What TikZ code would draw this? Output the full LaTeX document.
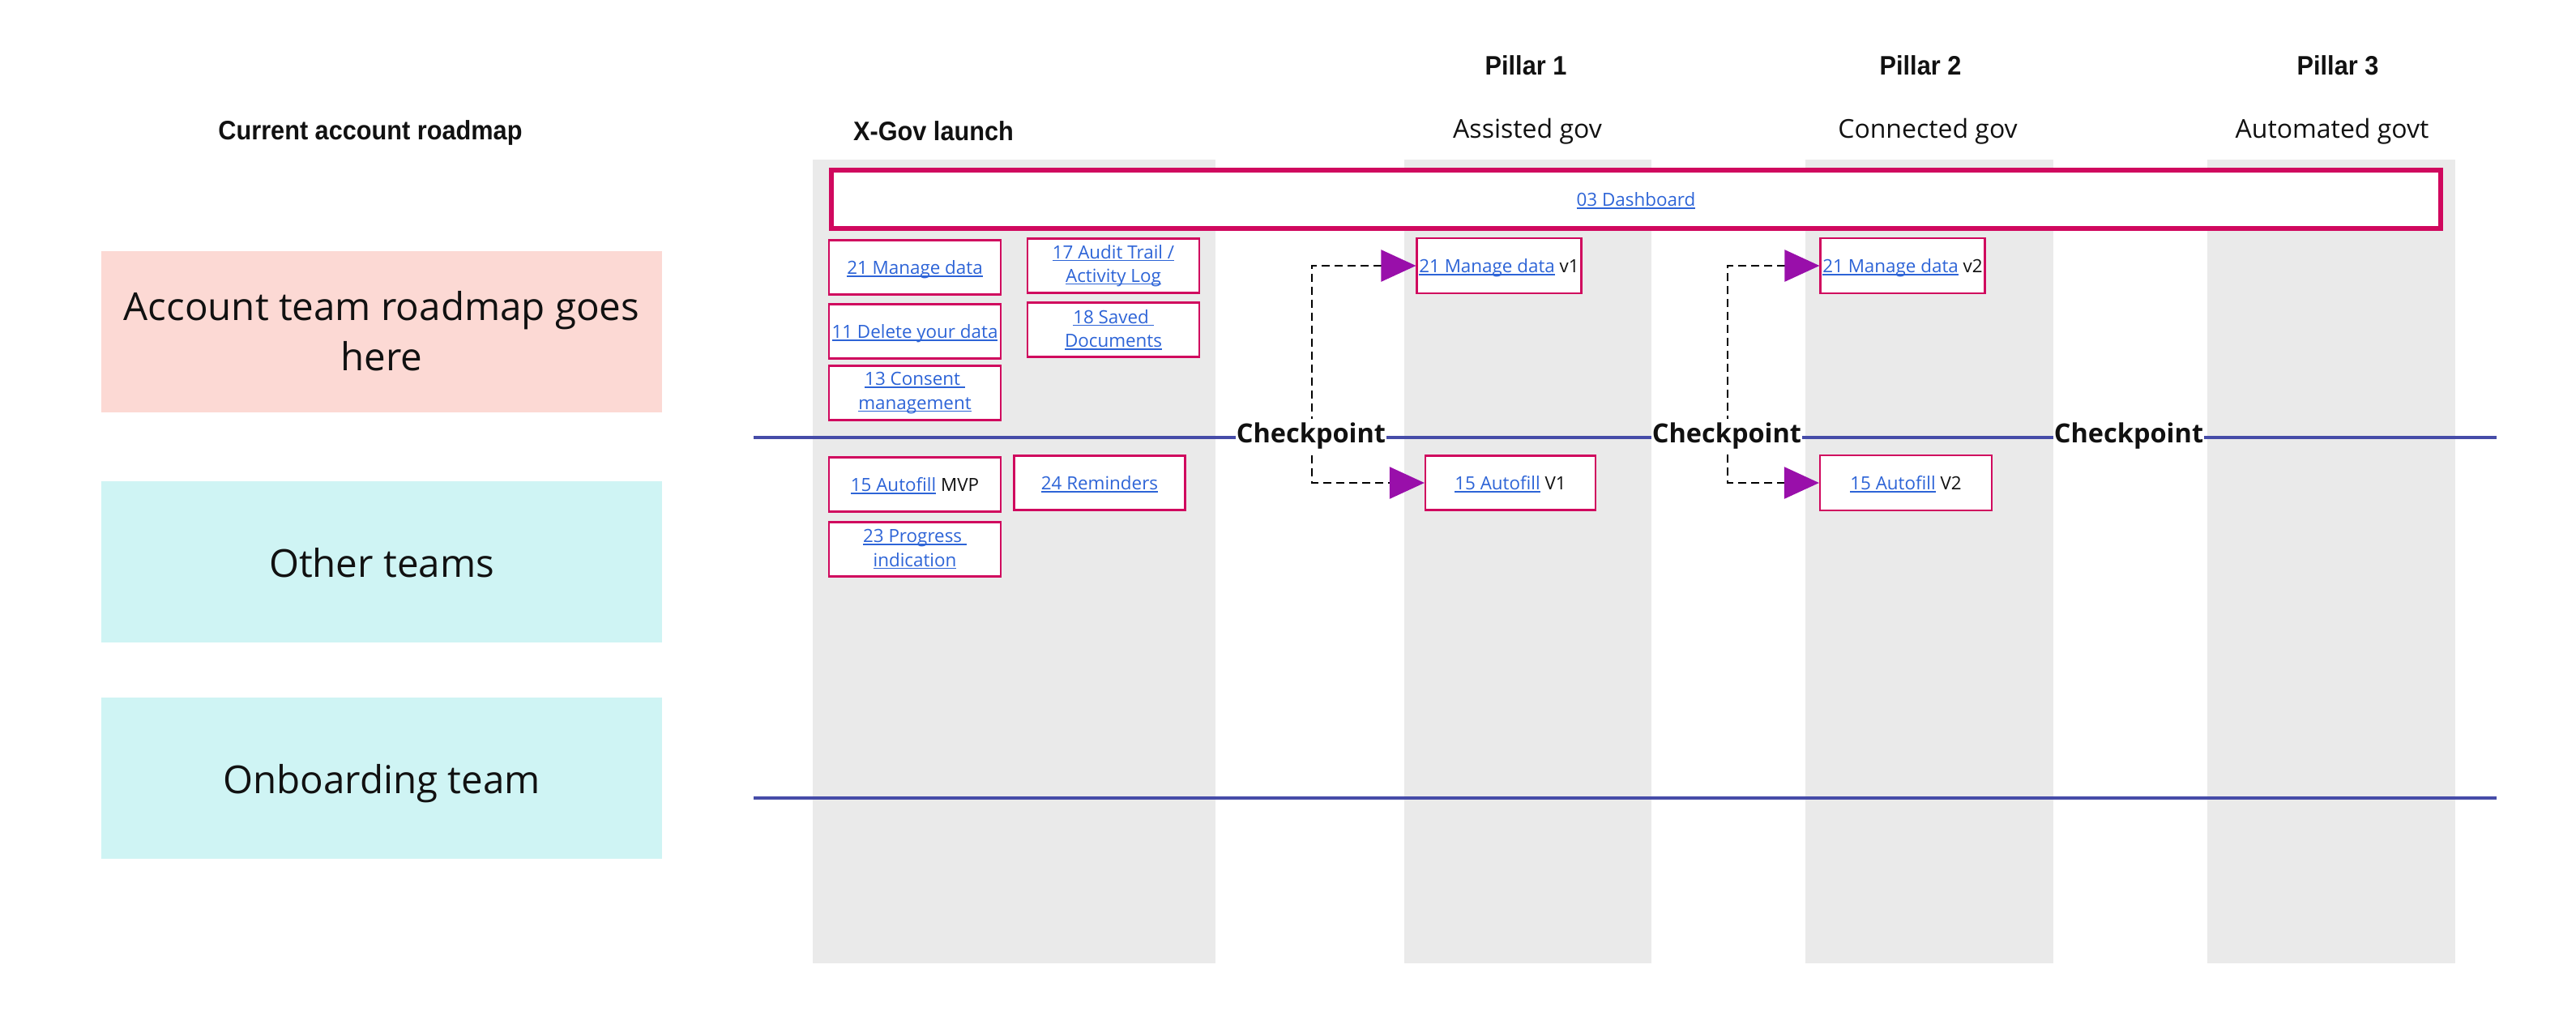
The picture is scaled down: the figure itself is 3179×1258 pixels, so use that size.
\documentclass[tikz,border=0pt]{standalone}
\usepackage{fontspec}
\setmainfont{Open Sans}
\newfontfamily\hdfont[FakeStretch=0.93]{Liberation Sans}
\usetikzlibrary{arrows.meta}
\definecolor{txt}{RGB}{17,17,17}
\definecolor{linkblue}{RGB}{45,100,215}
\definecolor{crim}{RGB}{208,8,94}
\definecolor{tippurple}{RGB}{153,15,170}
\definecolor{pinkfill}{RGB}{252,217,212}
\definecolor{cyanfill}{RGB}{207,244,244}
\definecolor{colgray}{RGB}{234,234,234}
\definecolor{lineblue}{RGB}{70,76,168}
\newcommand\lnk[1]{{\color{linkblue}\setbox0=\hbox{#1}\rlap{\rule[-3pt]{\wd0}{1.5pt}}\box0}}
\tikzset{
  hd/.style={font=\hdfont\bfseries\fontsize{33}{40}\selectfont, text=txt, inner sep=0pt, anchor=base},
  sub/.style={font=\fontsize{32}{40}\selectfont, text=txt, inner sep=0pt, anchor=base},
  team/.style={minimum width=692pt, minimum height=199pt, inner sep=0pt, align=center, font=\fontsize{47.5}{62}\selectfont, text=txt},
  teamline/.style={text height=47.5pt, text depth=9.5pt},
  itemline/.style={text height=22.4pt, text depth=4.5pt},
  item/.style={draw=crim, line width=2.2pt, fill=white, inner sep=0pt, align=center, minimum width=212pt, minimum height=67pt, font=\fontsize{22.4}{29.3}\selectfont, text=txt},
  dashbox/.style={draw=crim, line width=6pt, fill=white, inner sep=0pt, minimum width=1986pt, minimum height=72pt, font=\fontsize{22.4}{29.3}\selectfont},
  colbg/.style={fill=colgray},
  blueline/.style={draw=lineblue, line width=4pt},
  chk/.style={fill=white, inner xsep=1pt, inner ysep=5pt, font=\bfseries\fontsize{32.5}{38}\selectfont, text=txt},
  conn/.style={draw=black, line width=2.5pt, dash pattern=on 10pt off 6pt,
    {Triangle[length=43pt,width=39pt,color=tippurple]}-{Triangle[length=43pt,width=39pt,color=tippurple]}}
}
\begin{document}
\begin{tikzpicture}[x=1pt,y=-1pt]
\useasboundingbox (0,0) rectangle (3179,1258);
% columns
\fill[colbg] (1003,197) rectangle (1500,1189);
\fill[colbg] (1733,197) rectangle (2038,1189);
\fill[colbg] (2228,197) rectangle (2534,1189);
\fill[colbg] (2724,197) rectangle (3030,1189);
% headers
\node[hd] (cur) at (457,172) {Current account roadmap};
\node[hd] (xgov) at (1152,173) {X-Gov launch};
\node[hd] (p1) at (1883,92) {Pillar 1};
\node[hd] (p2) at (2370,92) {Pillar 2};
\node[hd] (p3) at (2885,92) {Pillar 3};
\node[sub] (s1) at (1885,170) {Assisted gov};
\node[sub] (s2) at (2379,170) {Connected gov};
\node[sub] (s3) at (2878,170) {Automated govt};
% team boxes
\node[team, fill=pinkfill] (acc) at (471,409) {Account team roadmap goes\\here};
\node[team, teamline, fill=cyanfill] (oth) at (471,693) {Other teams};
\node[team, teamline, fill=cyanfill] (onb) at (471,960) {Onboarding team};
% swimlane lines
\coordinate (l1a) at (930,540);
\coordinate (l1b) at (3081,540);
\coordinate (l2a) at (930,985);
\coordinate (l2b) at (3081,985);
\draw[blueline] (l1a) -- (l1b);
\draw[blueline] (l2a) -- (l2b);
% dashboard
\node[dashbox, itemline] (db) at (2019,246) {\lnk{03 Dashboard}};
% launch items
\node[item, itemline] (md0) at (1129,330) {\lnk{21 Manage data}};
\node[item] (aud) at (1374,328) {\lnk{17 Audit Trail /}\\\lnk{Activity Log}};
\node[item, itemline] (del) at (1129,409) {\lnk{11 Delete your data}};
\node[item] (sav) at (1374,407) {\lnk{18 Saved\ }\\\lnk{Documents}};
\node[item] (con) at (1129,485) {\lnk{13 Consent\ }\\\lnk{management}};
\node[item, itemline] (afm) at (1129,598) {\lnk{15 Autofill} MVP};
\node[item, itemline, minimum width=211pt] (rem) at (1357,596) {\lnk{24 Reminders}};
\node[item] (pro) at (1129,678) {\lnk{23 Progress\ }\\\lnk{indication}};
% pillar items
\node[item, itemline, minimum width=203pt, minimum height=68pt] (md1) at (1850,328) {\lnk{21 Manage data} v1};
\node[item, itemline, minimum width=210pt] (af1) at (1864,596) {\lnk{15 Autofill} V1};
\node[item, itemline, minimum width=203pt, minimum height=68pt] (md2) at (2348,328) {\lnk{21 Manage data} v2};
\node[item, itemline, minimum width=212pt, minimum height=68pt] (af2) at (2352,596) {\lnk{15 Autofill} V2};
% connectors
\coordinate (k1) at (1619,540);
\coordinate (k2) at (2132,540);
\draw[conn] (md1.west) -| (k1) |- (af1.west);
\draw[conn] (md2.west) -| (k2) |- (af2.west);
% checkpoints
\node[chk] (c1) at (1618,538) {Checkpoint};
\node[chk] (c2) at (2131,538) {Checkpoint};
\node[chk] (c3) at (2627,538) {Checkpoint};
\end{tikzpicture}
\end{document}
